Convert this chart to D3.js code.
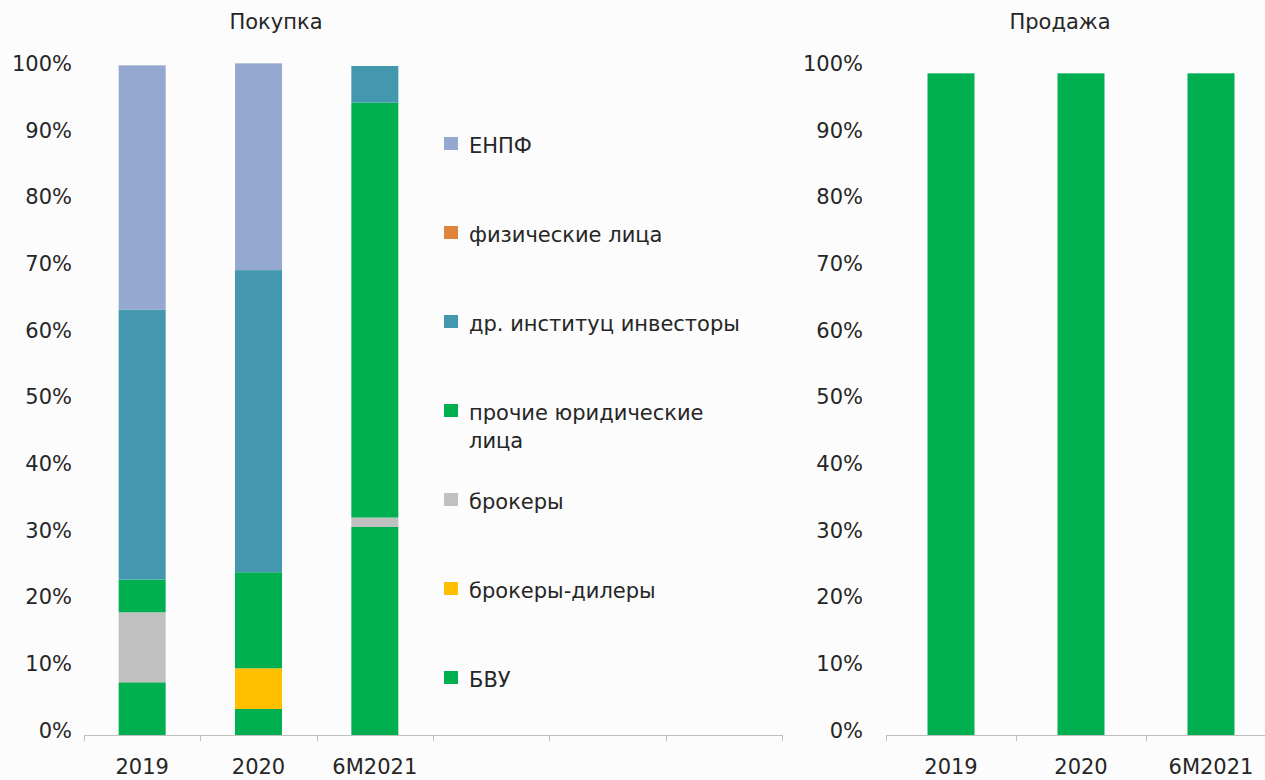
<!DOCTYPE html>
<html>
<head>
<meta charset="utf-8">
<script src="https://cdn.jsdelivr.net/npm/d3@7"></script>
<style>
  body { margin: 0; background: #fcfcfc; }
  text { font-family: "DejaVu Sans", sans-serif; fill: #262626; }
</style>
</head>
<body>
<div id="chart"></div>
<script>
// categories on the x axis (the left panel keeps 3 empty slots)
const years = ["2019", "2020", "6M2021"];
const leftSlots = ["2019", "2020", "6M2021", "s4", "s5", "s6"];
const yTicks = [0, 0.1, 0.2, 0.3, 0.4, 0.5, 0.6, 0.7, 0.8, 0.9, 1.0];

// series, stacked from the bottom up
const seriesNames = ["БВУ", "брокеры-дилеры", "брокеры", "прочие юридические лица", "др. институц инвесторы", "физические лица", "ЕНПФ"];
const seriesColors = ["#00af50", "#ffc000", "#c0c0c0", "#00af50", "#4398b0", "#e0843c", "#95a9d0"];

// Покупка (buy side), shares
const bvuBuy         = [0.079, 0.039, 0.312];
const dealersBuy     = [0.000, 0.061, 0.000];
const brokersBuy     = [0.105, 0.000, 0.014];
const otherLegalBuy  = [0.049, 0.144, 0.622];
const institBuy      = [0.405, 0.453, 0.055];
const individualsBuy = [0.000, 0.000, 0.000];
const enpfBuy        = [0.366, 0.310, 0.000];

// Продажа (sell side), shares
const bvuSell         = [0.992, 0.992, 0.992];
const dealersSell     = [0, 0, 0];
const brokersSell     = [0, 0, 0];
const otherLegalSell  = [0, 0, 0];
const institSell      = [0, 0, 0];
const individualsSell = [0, 0, 0];
const enpfSell        = [0, 0, 0];

const buySeries = [bvuBuy, dealersBuy, brokersBuy, otherLegalBuy, institBuy, individualsBuy, enpfBuy];
const sellSeries = [bvuSell, dealersSell, brokersSell, otherLegalSell, institSell, individualsSell, enpfSell];

const toRows = (series) => years.map((yr, i) => {
    let row = {year: yr};
    seriesNames.forEach((s, k) => row[s] = series[k][i]);
    return row;
});

var width = 1265, height = 780;
const baseY = 735, topY = 68;
const barW = 47;

let svg = d3.select("#chart")
  .append("svg")
    .attr("width", width)
    .attr("height", height);

svg.append("rect")
    .attr("width", width)
    .attr("height", height)
    .attr("fill", "#fcfcfc");

const y = d3.scaleLinear().domain([0, 1]).range([baseY, topY]);
const stack = d3.stack().keys(seriesNames);

const drawPanel = (rows, slots, x0, x1, labelPad, title, titleX) => {
    const x = d3.scaleBand().domain(slots).range([x0, x1]).padding(0);
    let g = svg.append("g");

    // y axis labels
    g.append("g")
        .attr("transform", `translate(${x0}, 0)`)
        .call(d3.axisLeft(y).tickValues(yTicks).tickFormat(d3.format(".0%")).tickSize(0).tickPadding(labelPad))
        .call(a => a.select(".domain").remove())
        .selectAll("text")
        .attr("dy", "0.11em")
        .style("font-size", "21px")
        .style("font-family", "DejaVu Sans")
        .attr("fill", "#262626");

    // bars
    const stacked = stack(rows);
    g.selectAll(".layer")
        .data(stacked)
        .join("g")
        .attr("fill", (d, i) => seriesColors[i])
        .selectAll("rect")
        .data(d => d)
        .join("rect")
        .attr("x", d => x(d.data.year) + (x.bandwidth() - barW) / 2)
        .attr("y", d => y(d[1]))
        .attr("width", barW)
        .attr("height", d => y(d[0]) - y(d[1]));

    // x axis line with ticks between the categories
    g.append("line")
        .attr("x1", x0).attr("x2", x1)
        .attr("y1", baseY + 0.5).attr("y2", baseY + 0.5)
        .attr("stroke", "#bfbfbf").attr("stroke-width", 1);
    g.selectAll(".tk")
        .data(d3.range(slots.length + 1))
        .join("line")
        .attr("x1", i => Math.round(x0 + i * x.step()) + 0.5)
        .attr("x2", i => Math.round(x0 + i * x.step()) + 0.5)
        .attr("y1", baseY)
        .attr("y2", baseY + 6)
        .attr("stroke", "#bfbfbf");

    g.append("g")
        .attr("transform", `translate(0, ${baseY})`)
        .call(d3.axisBottom(x).tickValues(years).tickSize(0).tickPadding(24))
        .call(a => a.select(".domain").remove())
        .selectAll("text")
        .style("font-size", "21px")
        .style("font-family", "DejaVu Sans")
        .attr("fill", "#262626");

    g.append("text")
        .text(title)
        .attr("x", titleX)
        .attr("y", 29)
        .attr("text-anchor", "middle")
        .style("font-size", "21px");
};

drawPanel(toRows(buySeries), leftSlots, 84, 782, 12, "Покупка", 276);
drawPanel(toRows(sellSeries), years, 886, 1276, 23, "Продажа", 1060);

// legend, top item is the last series
const legendLines = [["ЕНПФ"], ["физические лица"], ["др. институц инвесторы"], ["прочие юридические", "лица"], ["брокеры"], ["брокеры-дилеры"], ["БВУ"]];
const legendColors = seriesColors.slice().reverse();

let legend = svg.append("g");
legendLines.forEach((lines, i) => {
    const cy = 145 + i * 89;
    legend.append("rect")
        .attr("x", 444).attr("y", cy - 8)
        .attr("width", 14).attr("height", 13)
        .attr("fill", legendColors[i]);
    let t = legend.append("text")
        .attr("x", 469)
        .attr("y", cy + 7.5)
        .style("font-size", "21px");
    lines.forEach((ln, j) => {
        t.append("tspan").attr("x", 469).attr("dy", j === 0 ? 0 : 28).text(ln);
    });
});
</script>
</body>
</html>
